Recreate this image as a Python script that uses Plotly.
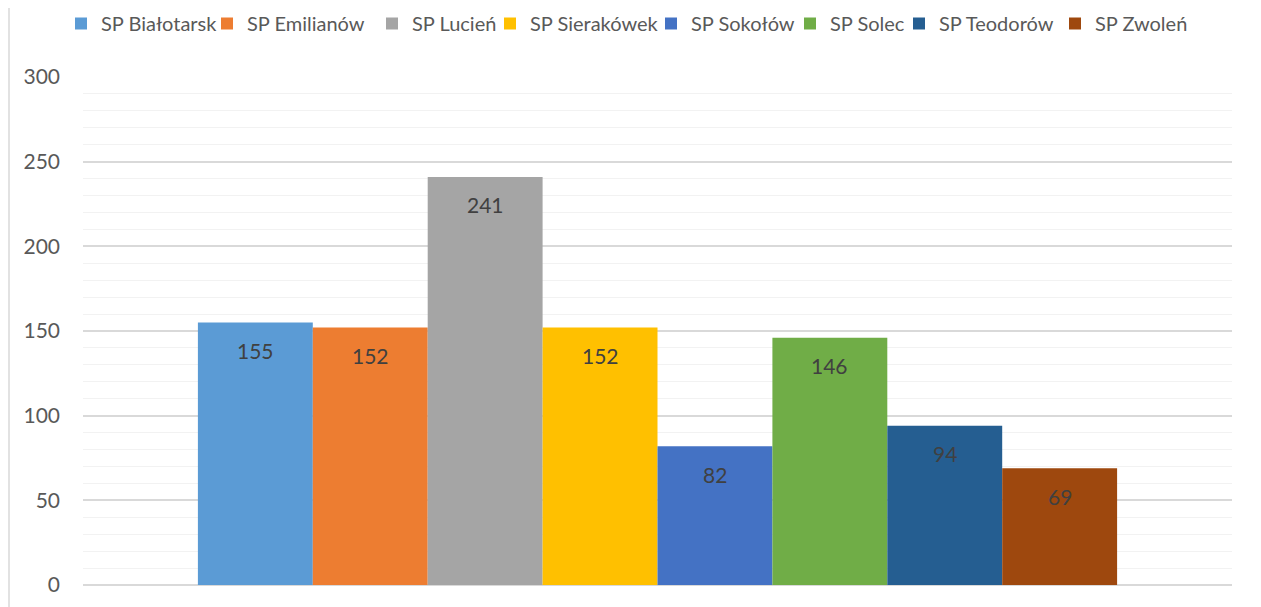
import plotly.graph_objects as go

categories = ["Kategoria"]
series_names = ["SP Białotarsk", "SP Emilianów", "SP Lucień", "SP Sierakówek",
                "SP Sokołów", "SP Solec", "SP Teodorów", "SP Zwoleń"]
values = [155, 152, 241, 152, 82, 146, 94, 69]
colors = ["#5B9BD5", "#ED7D31", "#A5A5A5", "#FFC000", "#4472C4", "#70AD47", "#255E91", "#9E480E"]
y_ticks = [0, 50, 100, 150, 200, 250, 300]

FONT = "Lato, Liberation Sans, sans-serif"
BARGAP = 0.2
W, H = 1253, 599
L, R, T, B = 75, 29, 69, 22
PW, PH = W - L - R, H - T - B

# left edge (figure px) of each legend entry, laid out like the original single-row legend
legend_x_px = [53, 199, 364, 482, 643, 782, 891, 1047]
legend_y_px = 15.5

fig = go.Figure()
legend_layouts = {}
for i, (name, v, c) in enumerate(zip(series_names, values, colors)):
    key = "legend" if i == 0 else f"legend{i + 1}"
    fig.add_trace(go.Bar(
        name=name, x=categories, y=[v], marker=dict(color=c, line=dict(width=0)),
        hoverinfo="name+y", legend=key, showlegend=True,
    ))
    legend_layouts[key] = dict(
        orientation="h", xref="container", yref="container",
        x=legend_x_px[i] / W, xanchor="left",
        y=1 - legend_y_px / H, yanchor="middle",
        font=dict(family=FONT, size=20, color="#595959"), itemwidth=30,
        bgcolor="rgba(0,0,0,0)", borderwidth=0, visible=True,
    )

# data labels placed inside the top end of each bar (Excel "inside end")
n = len(values)
bw = (1 - BARGAP) / n
annotations = []
for i, v in enumerate(values):
    annotations.append(dict(
        x=-(1 - BARGAP) / 2 + bw * (i + 0.5), y=v, xref="x", yref="y",
        text=str(v), showarrow=False, yanchor="middle", yshift=-28,
        font=dict(family=FONT, size=21, color="#404040"),
    ))

fig.update_layout(
    width=W, height=H, showlegend=True,
    margin=dict(l=L, r=R, t=T, b=B, autoexpand=False),
    paper_bgcolor="white", plot_bgcolor="white",
    barmode="group", bargap=BARGAP, bargroupgap=0,
    font=dict(family=FONT, size=21, color="#595959"),
    xaxis=dict(showticklabels=False, showgrid=False, zeroline=False, showline=False,
               range=[-0.5, 0.5]),
    yaxis=dict(range=[0, 300], tickvals=y_ticks, showgrid=True, gridcolor="#D9D9D9", gridwidth=1.5,
               zeroline=True, zerolinecolor="#D9D9D9", zerolinewidth=1.5, showline=False,
               ticks="", ticklabelstandoff=22,
               tickfont=dict(family=FONT, size=21, color="#595959"),
               minor=dict(dtick=10, showgrid=True, gridcolor="#F2F2F2", gridwidth=1)),
    annotations=annotations,
    shapes=[dict(type="rect", xref="paper", yref="paper",
                 x0=(1 - L) / PW, x1=(1251 - L) / PW, y0=-0.3, y1=1.5,
                 line=dict(color="#D9D9D9", width=1.5), fillcolor="rgba(0,0,0,0)", layer="below")],
    **legend_layouts,
)

fig.write_html("out.html")
